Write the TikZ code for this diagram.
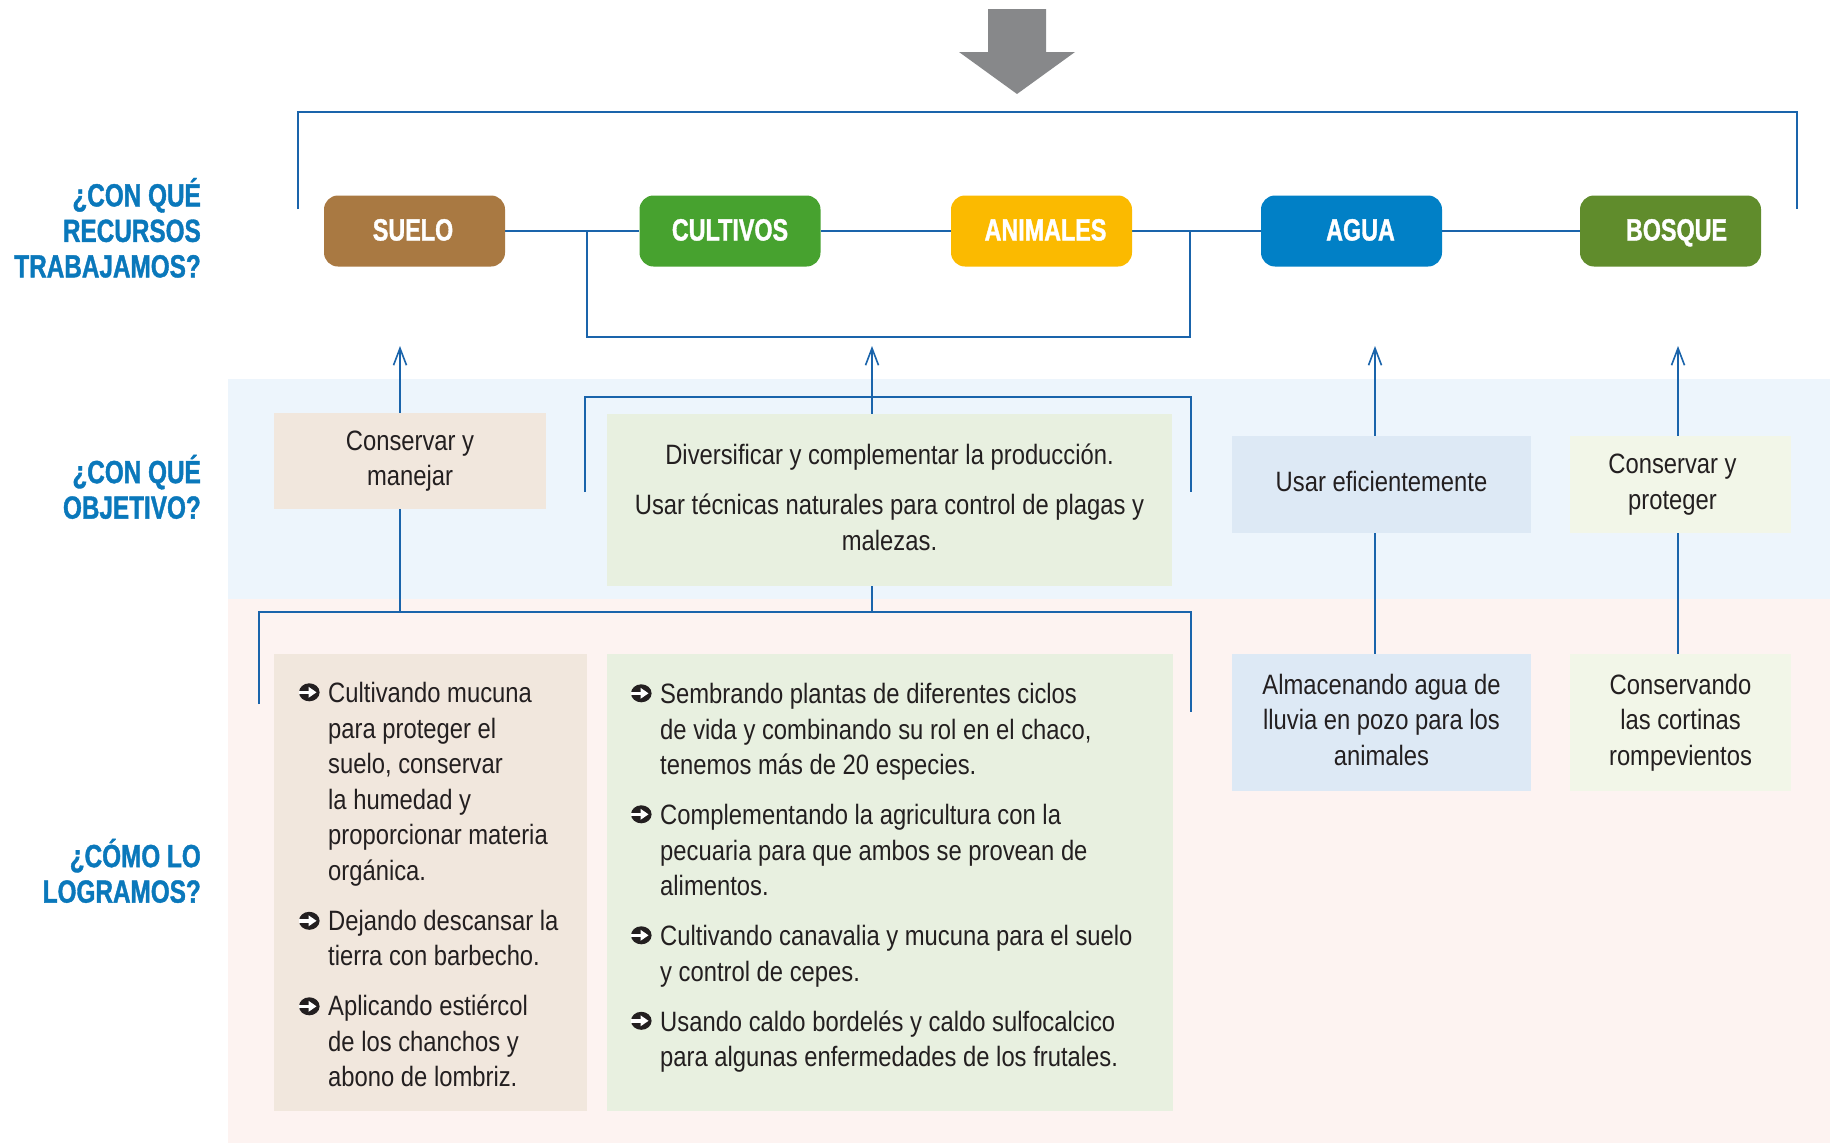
\documentclass[tikz,border=0pt]{standalone}
\usepackage{fontspec}
\usetikzlibrary{arrows.meta}
\newfontfamily\bodyf{Liberation Sans}[FakeStretch=0.85]
\newfontfamily\headf{Liberation Sans}[FakeStretch=0.76,BoldFeatures={FakeBold=1.2}]
\definecolor{lineblue}{HTML}{1A64AB}
\definecolor{labblue}{HTML}{0A78BB}
\definecolor{txt}{HTML}{231F20}
\definecolor{csuelo}{HTML}{A97942}
\definecolor{ccult}{HTML}{47A22F}
\definecolor{canim}{HTML}{FBBA00}
\definecolor{cagua}{HTML}{0180C6}
\definecolor{cbosq}{HTML}{608C2C}
\definecolor{bandblue}{HTML}{EDF5FC}
\definecolor{bandpink}{HTML}{FDF3F1}
\definecolor{sbox}{HTML}{F1E7DD}
\definecolor{cbox}{HTML}{E8F0E0}
\definecolor{abox}{HTML}{DDE9F5}
\definecolor{bbox}{HTML}{F2F6E8}
\definecolor{agray}{HTML}{87888A}
\newcommand\bulletat[2]{%
  \begin{scope}[shift={(#1,#2)}]
    \fill[txt] (10.3,-10) ellipse [x radius=10.3, y radius=9];
    \fill[white] (-0.5,-11.8) rectangle (11,-8.2);
    \fill[white] (9.5,-15.5) -- (17.5,-10) -- (9.5,-4.5) -- cycle;
  \end{scope}}
\pgfdeclarelayer{back}
\pgfdeclarelayer{lines}
\pgfsetlayers{back,lines,main}
\begin{document}
\begin{tikzpicture}[x=1pt,y=-1pt,
  conn/.style={draw=lineblue, line width=2.2pt},
  arr/.style={conn, -{Straight Barb[length=17pt,width=13pt,line width=1.6pt]}},
  res/.style={rounded corners=14pt, minimum width=181pt, minimum height=71pt, inner sep=0pt, text height=22pt, text depth=3pt, text=white, font=\headf\bfseries\fontsize{30.7}{36}\selectfont},
  obj/.style={inner sep=0pt, align=center, text=txt, font=\bodyf\fontsize{28}{35.5}\selectfont},
  lab/.style={inner sep=0pt, align=right, text=labblue, anchor=east, font=\headf\bfseries\fontsize{32}{35.5}\selectfont},
  list/.style={inner sep=0pt, anchor=north west, text=txt, font=\bodyf\fontsize{28}{35.5}\selectfont}
]
\useasboundingbox (0,0) rectangle (1830,1143);
\begin{pgfonlayer}{back}
\fill[white] (0,0) rectangle (1830,1143);
\fill[bandblue] (228,379) rectangle (1830,599);
\fill[bandpink] (228,599) rectangle (1830,1143);
\end{pgfonlayer}

% gray arrow
\fill[agray] (988,9) -- (1046,9) -- (1046,52) -- (1075,52) -- (1017,94) -- (959,52) -- (988,52) -- cycle;

% left labels
\node[lab] (q1) at (201,233) {\strut ¿CON QUÉ\\\strut RECURSOS\\\strut TRABAJAMOS?};
\node[lab] (q2) at (201,492) {\strut ¿CON QUÉ\\\strut OBJETIVO?};
\node[lab] (q3) at (201,876) {\strut ¿CÓMO LO\\\strut LOGRAMOS?};

% resources
\node[res, fill=csuelo] (suelo) at (414.5,231) {SUELO\hspace*{3pt}};
\node[res, fill=ccult] (cultivos) at (730,231) {CULTIVOS};
\node[res, fill=canim] (animales) at (1041.5,231) {\hspace*{8pt}ANIMALES};
\node[res, fill=cagua] (agua) at (1351.5,231) {\hspace*{18pt}AGUA};
\node[res, fill=cbosq] (bosque) at (1670.5,231) {\hspace*{12pt}BOSQUE};

% objectives
\node[obj, fill=sbox, minimum width=272pt, minimum height=96pt] (cm) at (410,461) {\strut Conservar y\\\strut manejar};
\node[obj, fill=cbox, minimum width=565pt, minimum height=172pt] (div) at (889.5,500) {\strut Diversificar y complementar la producción.\\[15pt]\strut Usar técnicas naturales para control de plagas y\\\strut malezas.};
\node[obj, fill=abox, minimum width=299pt, minimum height=97pt] (usar) at (1381.5,484.5) {\strut Usar eficientemente};
\node[obj, fill=bbox, minimum width=221pt, minimum height=97pt] (cp) at (1680.5,484.5) {\strut Conservar y\hspace*{16pt}\\\strut proteger\hspace*{16pt}};

% how
\node[fill=sbox, minimum width=313pt, minimum height=457pt, inner sep=0pt] (sl) at (430.5,882.5) {};
\node[fill=cbox, minimum width=566pt, minimum height=457pt, inner sep=0pt] (cl) at (890,882.5) {};
\node[obj, fill=abox, minimum width=299pt, minimum height=137pt] (alm) at (1381.5,722.5) {\strut Almacenando agua de\\\strut lluvia en pozo para los\\\strut animales};
\node[obj, fill=bbox, minimum width=221pt, minimum height=137pt] (cons) at (1680.5,722.5) {\strut Conservando\\\strut las cortinas\\\strut rompevientos};

\node[list] (slt) at (328,677.5) {\begin{tabular}{@{}l@{}}
Cultivando mucuna\\
para proteger el\\
suelo, conservar\\
la humedad y\\
proporcionar materia\\
orgánica.\\[14.5pt]
Dejando descansar la\\
tierra con barbecho.\\[14.5pt]
Aplicando estiércol\\
de los chanchos y\\
abono de lombriz.
\end{tabular}};
\node[list] (clt) at (660,678.5) {\begin{tabular}{@{}l@{}}
Sembrando plantas de diferentes ciclos\\
de vida y combinando su rol en el chaco,\\
tenemos más de 20 especies.\\[14.5pt]
Complementando la agricultura con la\\
pecuaria para que ambos se provean de\\
alimentos.\\[14.5pt]
Cultivando canavalia y mucuna para el suelo\\
y control de cepes.\\[14.5pt]
Usando caldo bordelés y caldo sulfocalcico\\
para algunas enfermedades de los frutales.
\end{tabular}};

% bullets
\bulletat{299}{702.3}
\bulletat{299}{930.8}
\bulletat{299}{1016.3}
\bulletat{631}{703.3}
\bulletat{631}{824.3}
\bulletat{631}{945.3}
\bulletat{631}{1030.8}

% coordinates
\coordinate (tl) at (298,209);
\coordinate (tr) at (1797,209);
\coordinate (ca1) at (587,231);
\coordinate (ca2) at (1190,231);
\coordinate (t1) at (400,346);
\coordinate (t2) at (872,346);
\coordinate (t3) at (1375,346);
\coordinate (t4) at (1678,346);
\coordinate (ob1) at (585,492);
\coordinate (ob2) at (1191,492);
\coordinate (lb1) at (259,704);
\coordinate (lb2) at (1191,712);

\begin{pgfonlayer}{lines}
\draw[conn] (tl) -- ++(0,-97) -| (tr);
\draw[conn] (suelo) -- (cultivos) -- (animales) -- (agua) -- (bosque);
\draw[conn] (ca1) -- ++(0,106) -| (ca2);
\draw[arr] (cm.north -| t1) -- (t1);
\draw[arr] (div.north -| t2) -- (t2);
\draw[arr] (usar.north -| t3) -- (t3);
\draw[arr] (cp.north -| t4) -- (t4);
\draw[conn] (ob1) -- ++(0,-95) -| (ob2);
\draw[conn] (lb1) -- ++(0,-92) -| (lb2);
\draw[conn] (cm.south -| t1) -- ++(0,103);
\draw[conn] (div.south -| t2) -- ++(0,26);
\draw[conn] (usar.south -| t3) -- (alm.north -| t3);
\draw[conn] (cp.south -| t4) -- (cons.north -| t4);
\end{pgfonlayer}
\end{tikzpicture}
\end{document}
